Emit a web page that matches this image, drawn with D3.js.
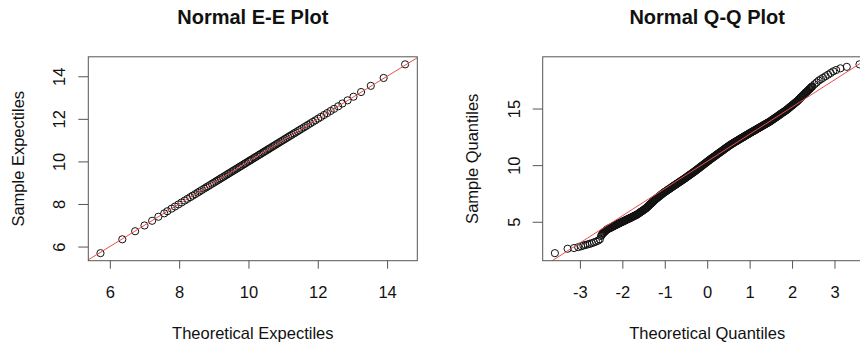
<!DOCTYPE html>
<html>
<head>
<meta charset="utf-8">
<script src="https://cdn.jsdelivr.net/npm/d3@7"></script>
<style>
  html, body { margin: 0; padding: 0; background: #fff; overflow: hidden; }
  svg { display: block; }
  text { font-family: "Liberation Sans", Arial, Helvetica, sans-serif; fill: #111; }
</style>
</head>
<body>
<svg id="chart" width="860" height="347"></svg>
<script>
// ---- E-E plot: theoretical vs sample expectiles ----
const eeTheoretical = [
  5.73, 6.36, 6.73, 7.00, 7.22, 7.40, 7.57, 7.66, 7.78, 7.88,
  7.98, 8.07, 8.16, 8.24, 8.32, 8.39, 8.46, 8.53, 8.59, 8.65,
  8.72, 8.78, 8.83, 8.89, 8.95, 9.00, 9.05, 9.10, 9.15, 9.20,
  9.25, 9.30, 9.35, 9.40, 9.44, 9.49, 9.54, 9.58, 9.63, 9.67,
  9.72, 9.76, 9.80, 9.85, 9.89, 9.93, 9.98, 10.02, 10.06, 10.10,
  10.15, 10.19, 10.23, 10.28, 10.32, 10.36, 10.41, 10.45, 10.49, 10.54,
  10.58, 10.62, 10.67, 10.72, 10.76, 10.81, 10.85, 10.90, 10.95, 11.00,
  11.05, 11.10, 11.15, 11.20, 11.25, 11.31, 11.36, 11.42, 11.47, 11.53,
  11.60, 11.66, 11.72, 11.79, 11.86, 11.93, 12.01, 12.09, 12.18, 12.27,
  12.37, 12.47, 12.59, 12.71, 12.86, 13.03, 13.25, 13.53, 13.90, 14.52
];
const eeSample = [
  5.69, 6.34, 6.72, 6.99, 7.21, 7.40, 7.56, 7.66, 7.78, 7.88,
  7.98, 8.07, 8.16, 8.24, 8.32, 8.39, 8.46, 8.53, 8.59, 8.65,
  8.72, 8.78, 8.83, 8.89, 8.95, 9.00, 9.05, 9.10, 9.15, 9.20,
  9.25, 9.30, 9.35, 9.40, 9.44, 9.49, 9.54, 9.58, 9.63, 9.67,
  9.72, 9.76, 9.80, 9.85, 9.89, 9.93, 9.98, 10.02, 10.06, 10.10,
  10.15, 10.19, 10.23, 10.28, 10.32, 10.36, 10.41, 10.45, 10.49, 10.54,
  10.58, 10.62, 10.67, 10.72, 10.76, 10.81, 10.85, 10.90, 10.95, 11.00,
  11.05, 11.10, 11.15, 11.20, 11.25, 11.31, 11.36, 11.42, 11.47, 11.53,
  11.60, 11.66, 11.72, 11.79, 11.86, 11.93, 12.01, 12.09, 12.18, 12.27,
  12.37, 12.47, 12.59, 12.72, 12.87, 13.04, 13.26, 13.55, 13.92, 14.56
];
const eeTicks = [6, 8, 10, 12, 14];
const eeRefLine = { intercept: 0, slope: 1 };

// ---- Q-Q plot: theoretical normal quantiles vs sample quantiles ----
const qqTheoretical = [
  -3.59, -3.29, -3.14, -3.04, -2.97, -2.92, -2.87, -2.82, -2.77, -2.72, -2.67, -2.62, -2.57, -2.53,
  -2.500, -2.485, -2.470, -2.455, -2.440, -2.425, -2.410, -2.395, -2.380, -2.365, -2.350, -2.335, -2.320, -2.305, -2.290, -2.275, -2.260, -2.245, -2.230, -2.215,
  -2.200, -2.185, -2.170, -2.155, -2.140, -2.125, -2.110, -2.095, -2.080, -2.065, -2.050, -2.035, -2.020, -2.005, -1.990, -1.975, -1.960, -1.945, -1.930, -1.915,
  -1.900, -1.885, -1.870, -1.855, -1.840, -1.825, -1.810, -1.795, -1.780, -1.765, -1.750, -1.735, -1.720, -1.705, -1.690, -1.675, -1.660, -1.645, -1.630, -1.615,
  -1.600, -1.585, -1.570, -1.555, -1.540, -1.525, -1.510, -1.495, -1.480, -1.465, -1.450, -1.435, -1.420, -1.405, -1.390, -1.375, -1.360, -1.345, -1.330, -1.315,
  -1.300, -1.285, -1.270, -1.255, -1.240, -1.225, -1.210, -1.195, -1.180, -1.165, -1.150, -1.135, -1.120, -1.105, -1.090, -1.075, -1.060, -1.045, -1.030, -1.015,
  -1.000, -0.985, -0.970, -0.955, -0.940, -0.925, -0.910, -0.895, -0.880, -0.865, -0.850, -0.835, -0.820, -0.805, -0.790, -0.775, -0.760, -0.745, -0.730, -0.715,
  -0.700, -0.685, -0.670, -0.655, -0.640, -0.625, -0.610, -0.595, -0.580, -0.565, -0.550, -0.535, -0.520, -0.505, -0.490, -0.475, -0.460, -0.445, -0.430, -0.415,
  -0.400, -0.385, -0.370, -0.355, -0.340, -0.325, -0.310, -0.295, -0.280, -0.265, -0.250, -0.235, -0.220, -0.205, -0.190, -0.175, -0.160, -0.145, -0.130, -0.115,
  -0.100, -0.085, -0.070, -0.055, -0.040, -0.025, -0.010, 0.005, 0.020, 0.035, 0.050, 0.065, 0.080, 0.095, 0.110, 0.125, 0.140, 0.155, 0.170, 0.185,
  0.200, 0.215, 0.230, 0.245, 0.260, 0.275, 0.290, 0.305, 0.320, 0.335, 0.350, 0.365, 0.380, 0.395, 0.410, 0.425, 0.440, 0.455, 0.470, 0.485,
  0.500, 0.515, 0.530, 0.545, 0.560, 0.575, 0.590, 0.605, 0.620, 0.635, 0.650, 0.665, 0.680, 0.695, 0.710, 0.725, 0.740, 0.755, 0.770, 0.785,
  0.800, 0.815, 0.830, 0.845, 0.860, 0.875, 0.890, 0.905, 0.920, 0.935, 0.950, 0.965, 0.980, 0.995, 1.010, 1.025, 1.040, 1.055, 1.070, 1.085,
  1.100, 1.115, 1.130, 1.145, 1.160, 1.175, 1.190, 1.205, 1.220, 1.235, 1.250, 1.265, 1.280, 1.295, 1.310, 1.325, 1.340, 1.355, 1.370, 1.385,
  1.400, 1.415, 1.430, 1.445, 1.460, 1.475, 1.490, 1.505, 1.520, 1.535, 1.550, 1.565, 1.580, 1.595, 1.610, 1.625, 1.640, 1.655, 1.670, 1.685,
  1.700, 1.715, 1.730, 1.745, 1.760, 1.775, 1.790, 1.805, 1.820, 1.835, 1.850, 1.865, 1.880, 1.895, 1.910, 1.925, 1.940, 1.955, 1.970, 1.985,
  2.000, 2.015, 2.030, 2.045, 2.060, 2.075, 2.090, 2.105, 2.120, 2.135, 2.150, 2.165, 2.180, 2.195, 2.210, 2.225, 2.240, 2.255, 2.270, 2.285,
  2.300, 2.315, 2.330, 2.345, 2.360, 2.375, 2.390, 2.405, 2.420, 2.435, 2.450, 2.465, 2.480,
  2.53, 2.58, 2.63, 2.68, 2.73, 2.79, 2.85, 2.91, 2.97, 3.04, 3.14, 3.29, 3.59
];
const qqSample = [
  2.23, 2.62, 2.68, 2.76, 2.84, 2.90, 2.95, 3.00, 3.05, 3.11, 3.18, 3.25, 3.34, 3.45,
  3.75, 3.84, 3.93, 3.99, 4.04, 4.10, 4.15, 4.21, 4.26, 4.30, 4.34, 4.37, 4.40, 4.43, 4.45, 4.48, 4.51, 4.54, 4.57, 4.60,
  4.63, 4.66, 4.68, 4.71, 4.74, 4.77, 4.80, 4.83, 4.85, 4.88, 4.91, 4.94, 4.96, 4.99, 5.02, 5.05, 5.07, 5.10, 5.13, 5.16,
  5.18, 5.21, 5.24, 5.27, 5.29, 5.32, 5.34, 5.37, 5.40, 5.43, 5.46, 5.49, 5.51, 5.54, 5.57, 5.60, 5.62, 5.66, 5.70, 5.74,
  5.78, 5.82, 5.86, 5.90, 5.93, 5.97, 6.01, 6.05, 6.09, 6.13, 6.17, 6.22, 6.26, 6.32, 6.37, 6.43, 6.48, 6.54, 6.59, 6.64,
  6.69, 6.75, 6.80, 6.86, 6.91, 6.96, 7.01, 7.06, 7.10, 7.15, 7.19, 7.24, 7.28, 7.33, 7.37, 7.42, 7.46, 7.51, 7.55, 7.59,
  7.63, 7.67, 7.70, 7.74, 7.78, 7.82, 7.86, 7.90, 7.93, 7.97, 8.01, 8.05, 8.09, 8.13, 8.17, 8.21, 8.24, 8.28, 8.32, 8.36,
  8.39, 8.43, 8.47, 8.51, 8.54, 8.58, 8.62, 8.66, 8.69, 8.73, 8.77, 8.81, 8.85, 8.89, 8.93, 8.97, 9.01, 9.05, 9.09, 9.13,
  9.17, 9.21, 9.25, 9.29, 9.33, 9.37, 9.41, 9.45, 9.49, 9.54, 9.58, 9.62, 9.66, 9.71, 9.75, 9.80, 9.84, 9.88, 9.92, 9.97,
  10.01, 10.06, 10.10, 10.14, 10.18, 10.23, 10.27, 10.32, 10.36, 10.40, 10.44, 10.49, 10.53, 10.57, 10.61, 10.65, 10.69, 10.73, 10.77, 10.81,
  10.85, 10.90, 10.94, 10.98, 11.02, 11.06, 11.10, 11.14, 11.18, 11.22, 11.26, 11.30, 11.34, 11.39, 11.43, 11.47, 11.51, 11.55, 11.59, 11.63,
  11.67, 11.71, 11.75, 11.79, 11.82, 11.86, 11.89, 11.93, 11.96, 12.00, 12.03, 12.07, 12.10, 12.13, 12.16, 12.20, 12.23, 12.27, 12.30, 12.34,
  12.37, 12.40, 12.43, 12.47, 12.50, 12.54, 12.57, 12.61, 12.64, 12.67, 12.70, 12.74, 12.77, 12.81, 12.84, 12.87, 12.90, 12.94, 12.97, 13.00,
  13.03, 13.07, 13.10, 13.13, 13.16, 13.20, 13.23, 13.26, 13.29, 13.33, 13.36, 13.39, 13.42, 13.46, 13.49, 13.52, 13.55, 13.59, 13.62, 13.65,
  13.68, 13.72, 13.75, 13.78, 13.81, 13.85, 13.88, 13.92, 13.96, 14.00, 14.04, 14.08, 14.12, 14.16, 14.19, 14.23, 14.27, 14.31, 14.35, 14.39,
  14.43, 14.47, 14.51, 14.55, 14.59, 14.63, 14.66, 14.70, 14.74, 14.78, 14.82, 14.86, 14.90, 14.95, 14.99, 15.04, 15.09, 15.14, 15.18, 15.23,
  15.27, 15.32, 15.36, 15.41, 15.46, 15.51, 15.55, 15.60, 15.64, 15.70, 15.75, 15.81, 15.87, 15.93, 15.98, 16.04, 16.09, 16.15, 16.20, 16.26,
  16.32, 16.38, 16.43, 16.48, 16.53, 16.59, 16.64, 16.70, 16.75, 16.81, 16.86, 16.92, 16.97,
  17.14, 17.30, 17.47, 17.59, 17.71, 17.85, 17.99, 18.13, 18.28, 18.40, 18.55, 18.68, 18.90
];
const qqXTicks = [-3, -2, -1, 0, 1, 2, 3];
const qqYTicks = [5, 10, 15];
const qqRefLine = { intercept: 10.33, slope: 2.40 };

const svg = d3.select("#chart");
const AXIS_COLOR = "#555";
const POINT_COLOR = "#111";
const LINE_COLOR = "#e5504c";
const FONT = "Liberation Sans, Arial, sans-serif";

// Extend a data range by 4% on each side, the way base R plots do.
function paddedExtent(values) {
  const [lo, hi] = d3.extent(values);
  const pad = (hi - lo) * 0.04;
  return [lo - pad, hi + pad];
}

function drawPanel(cfg) {
  const { left, top, width, height, xs, ys, xTicks, yTicks, title, xLabel, yLabel, ref, id } = cfg;
  const right = left + width, bottom = top + height;
  const x = d3.scaleLinear().domain(paddedExtent(xs)).range([left, right]);
  const y = d3.scaleLinear().domain(paddedExtent(ys)).range([bottom, top]);
  const g = svg.append("g");

  g.append("clipPath").attr("id", id)
    .append("rect").attr("x", left).attr("y", top).attr("width", width).attr("height", height);

  // points
  g.append("g")
    .selectAll("circle")
    .data(d3.zip(xs, ys))
    .join("circle")
    .attr("cx", d => x(d[0]))
    .attr("cy", d => y(d[1]))
    .attr("r", 3.6)
    .attr("fill", "none")
    .attr("stroke", POINT_COLOR)
    .attr("stroke-width", 1);

  // reference line, clipped to the plotting region
  const [x0, x1] = x.domain();
  g.append("line")
    .attr("clip-path", `url(#${id})`)
    .attr("x1", x(x0)).attr("y1", y(ref.intercept + ref.slope * x0))
    .attr("x2", x(x1)).attr("y2", y(ref.intercept + ref.slope * x1))
    .attr("stroke", LINE_COLOR)
    .attr("stroke-width", 1);

  // frame
  g.append("rect")
    .attr("x", left).attr("y", top).attr("width", width).attr("height", height)
    .attr("fill", "none").attr("stroke", AXIS_COLOR).attr("stroke-width", 1);

  // bottom axis
  const gx = g.append("g")
    .attr("transform", `translate(0,${bottom})`)
    .call(d3.axisBottom(x).tickValues(xTicks).tickSize(8).tickSizeOuter(0).tickPadding(18)
      .tickFormat(d => String(d)));
  gx.select(".domain").remove();
  gx.selectAll("line").attr("stroke", AXIS_COLOR);
  gx.selectAll("text").attr("font-size", 16.5).attr("fill", "#111").attr("font-family", FONT);

  // left axis with labels running along the axis
  const gy = g.append("g")
    .attr("transform", `translate(${left},0)`)
    .call(d3.axisLeft(y).tickValues(yTicks).tickSize(10).tickSizeOuter(0)
      .tickFormat(d => String(d)));
  gy.select(".domain").remove();
  gy.selectAll("line").attr("stroke", AXIS_COLOR);
  gy.selectAll("text")
    .attr("x", 0).attr("dy", 0)
    .attr("transform", "translate(-23,0) rotate(-90)")
    .attr("text-anchor", "middle")
    .attr("font-size", 16.5).attr("fill", "#111").attr("font-family", FONT);

  // title and axis titles
  const cx = left + width / 2, cy = top + height / 2;
  g.append("text").attr("x", cx).attr("y", 23.5).attr("text-anchor", "middle")
    .attr("font-size", 20).attr("font-weight", "bold").text(title);
  g.append("text").attr("x", cx).attr("y", 339).attr("text-anchor", "middle")
    .attr("font-size", 16.5).text(xLabel);
  g.append("text").attr("transform", `translate(${left - 64.3},${cy}) rotate(-90)`)
    .attr("text-anchor", "middle").attr("font-size", 16.5).text(yLabel);
}

drawPanel({
  id: "clip-ee", left: 88.3, top: 56.8, width: 329, height: 203.9,
  xs: eeTheoretical, ys: eeSample, xTicks: eeTicks, yTicks: eeTicks,
  title: "Normal E-E Plot", xLabel: "Theoretical Expectiles", yLabel: "Sample Expectiles",
  ref: eeRefLine
});

drawPanel({
  id: "clip-qq", left: 542.7, top: 56.8, width: 329, height: 203.9,
  xs: qqTheoretical, ys: qqSample, xTicks: qqXTicks, yTicks: qqYTicks,
  title: "Normal Q-Q Plot", xLabel: "Theoretical Quantiles", yLabel: "Sample Quantiles",
  ref: qqRefLine
});
</script>
</body>
</html>
